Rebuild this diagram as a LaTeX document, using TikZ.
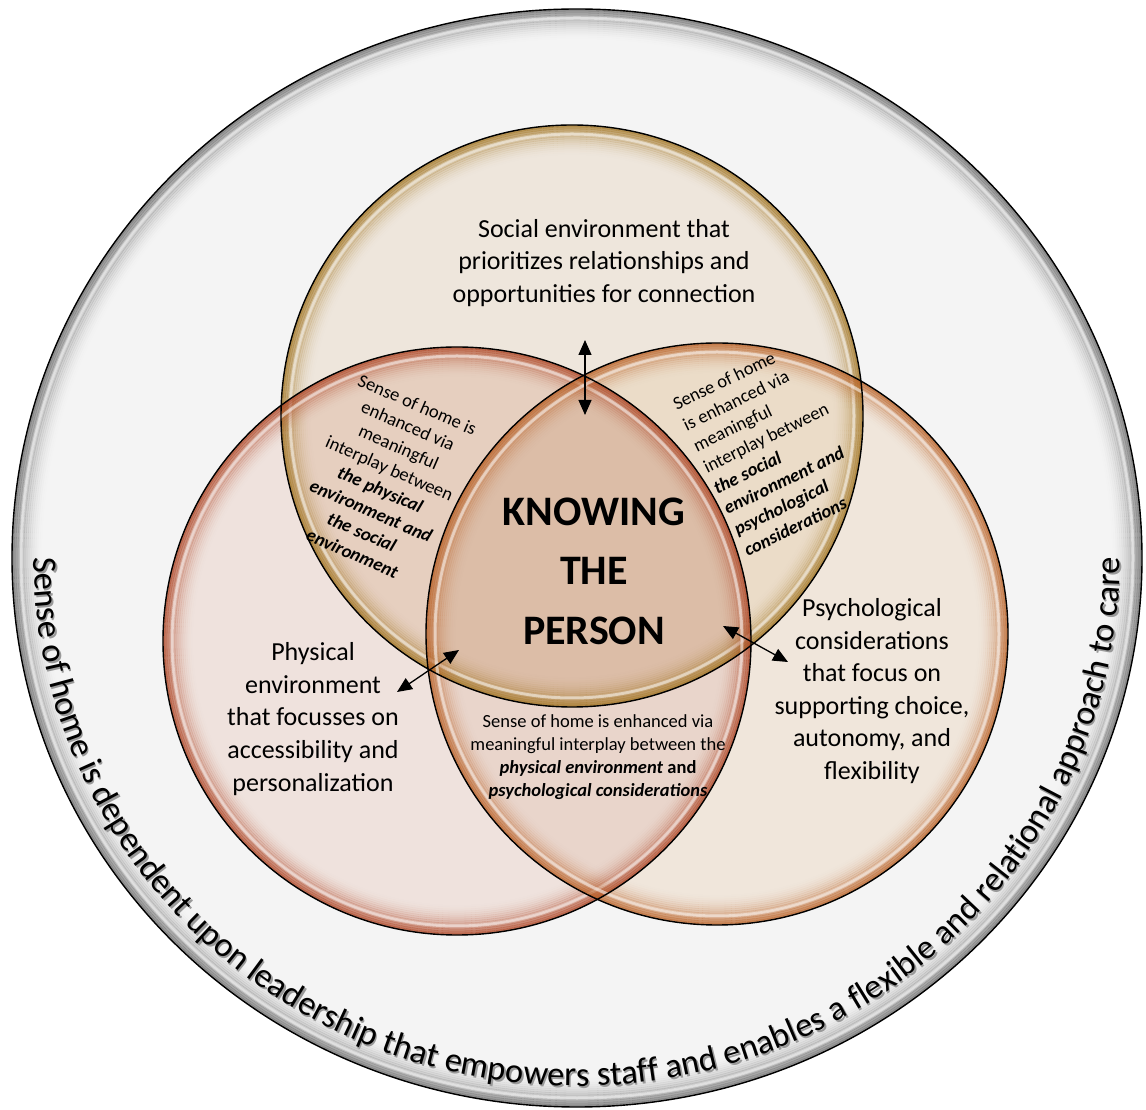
\documentclass[tikz,border=0pt]{standalone}
\usepackage{fontspec}
\setmainfont{Carlito}
\usetikzlibrary{arrows.meta,decorations.text}

\definecolor{outerfill}{HTML}{F4F4F4}
\definecolor{outerrim}{HTML}{6E6E6E}
\definecolor{topfill}{HTML}{EEE6DC}
\definecolor{toprim}{HTML}{A27624}
\definecolor{leftfill}{HTML}{EFE2DD}
\definecolor{leftrim}{HTML}{AE4626}
\definecolor{rightfill}{HTML}{F0E6DB}
\definecolor{rightrim}{HTML}{BA6228}
\definecolor{tlfill}{HTML}{E6CFBF}
\definecolor{trfill}{HTML}{EBDCC8}
\definecolor{lrfill}{HTML}{E9D5CB}
\definecolor{midfill}{HTML}{DCBDA7}

% glossy bevel along the inside of an ellipse: cx, cy, rx, ry, colour
\newcommand\rimring[5]{%
  \foreach \k in {0,...,14}{%
    \pgfmathsetmacro\op{0.75*(1-\k/15)^2}%
    \pgfmathsetmacro\rxk{#3-1-2*\k}%
    \pgfmathsetmacro\ryk{#4-1-2*\k}%
    \draw[#5, line width=2.3pt, opacity=\op] (#1,#2) ellipse [x radius=\rxk, y radius=\ryk];
  }%
  \draw[white, line width=3pt, opacity=0.55] (#1,#2) ellipse [x radius=#3-9, y radius=#4-9];
}

\begin{document}
\begin{tikzpicture}[x=1pt, y=1pt,
  lbl/.style={align=center, font=\fontsize{26}{32.6}\selectfont, inner sep=0pt},
  sm/.style={font=\fontsize{18.5}{23.2}\selectfont, inner sep=0pt},
  big/.style={align=center, font=\fontsize{42}{59.5}\selectfont\bfseries, inner sep=0pt},
  dblarrow/.style={{Triangle[length=15pt,width=13pt]}-{Triangle[length=15pt,width=13pt]}, line width=1.3pt},
  outline/.style={draw=black, line width=1.4pt}]

\useasboundingbox (0,0) rectangle (1146,1109);
\fill[white] (0,0) rectangle (1146,1109);

% outer ring
\fill[outerfill] (577,551) ellipse [x radius=565, y radius=549];
\rimring{577}{551}{565}{549}{outerrim}
\draw[outline] (577,551) ellipse [x radius=565, y radius=549];

% the three overlapping sets
\def\topset{(572,693) circle [radius=291]}
\def\leftset{(457,468) circle [radius=294]}
\def\rightset{(717,475) circle [radius=291]}

\fill[topfill] \topset;
\fill[leftfill] \leftset;
\fill[rightfill] \rightset;
\begin{scope}\clip \topset; \fill[tlfill] \leftset; \end{scope}
\begin{scope}\clip \topset; \fill[trfill] \rightset; \end{scope}
\begin{scope}\clip \leftset; \fill[lrfill] \rightset; \end{scope}
\begin{scope}\clip \topset; \clip \leftset; \fill[midfill] \rightset; \end{scope}

\rimring{572}{693}{291}{291}{toprim}
\rimring{457}{468}{294}{294}{leftrim}
\rimring{717}{475}{291}{291}{rightrim}

\draw[outline] \topset;
\draw[outline] \leftset;
\draw[outline] \rightset;

% curved caption inside the outer ring, with a soft shadow
\path[decorate, decoration={text along path, text align=center, text color=black!40,
  text={|\fontsize{34.5}{40}\selectfont|Sense of home is dependent upon leadership that empowers staff and enables a flexible and relational approach to care}}]
  (577,551) ++(176:543 and 528) ++(1.5,-2) arc[start angle=176, end angle=364, x radius=543, y radius=528];
\path[decorate, decoration={text along path, text align=center, text color=black,
  text={|\fontsize{34.5}{40}\selectfont|Sense of home is dependent upon leadership that empowers staff and enables a flexible and relational approach to care}}]
  (577,551) ++(176:543 and 528) arc[start angle=176, end angle=364, x radius=543, y radius=528];

% labels
\node[lbl] (social) at (604,846) {Social environment that\\prioritizes relationships and\\opportunities for connection};
\node[lbl] (physical) at (313,390) {Physical\\environment\\that focusses on\\accessibility and\\personalization};
\node[lbl] (psych) at (872,418) {Psychological\\considerations\\that focus on\\supporting choice,\\autonomy, and\\flexibility};
\node[big] (knowing) at (594,538) {KNOWING\\THE\\PERSON};

\node[sm, align=center, rotate=-23.5] (socphys) at (385,630)
  {Sense of home is\\enhanced via\\meaningful\\interplay between\\\textbf{\textit{the physical}}\\\textbf{\textit{environment and}}\\\textbf{\textit{the social}}\\\textbf{\textit{environment}}};
\node[sm, align=left, rotate=26] (socpsych) at (771,661)
  {Sense of home\\is enhanced via\\meaningful\\interplay between\\\textbf{\textit{the social}}\\\textbf{\textit{environment and}}\\\textbf{\textit{psychological}}\\\textbf{\textit{considerations}}};
\node[sm, align=center] (physpsych) at (598,352)
  {Sense of home is enhanced via\\meaningful interplay between the\\\textbf{\textit{physical environment}} \textbf{and}\\\textbf{\textit{psychological considerations}}};

% double-headed connectors
\coordinate (v1) at (585,769);
\coordinate (v2) at (585,694);
\coordinate (l1) at (397,417);
\coordinate (l2) at (459,459);
\coordinate (r1) at (723,483);
\coordinate (r2) at (788,447);
\draw[dblarrow] (v1) -- (v2);
\draw[dblarrow] (l1) -- (l2);
\draw[dblarrow] (r1) -- (r2);
\end{tikzpicture}
\end{document}
